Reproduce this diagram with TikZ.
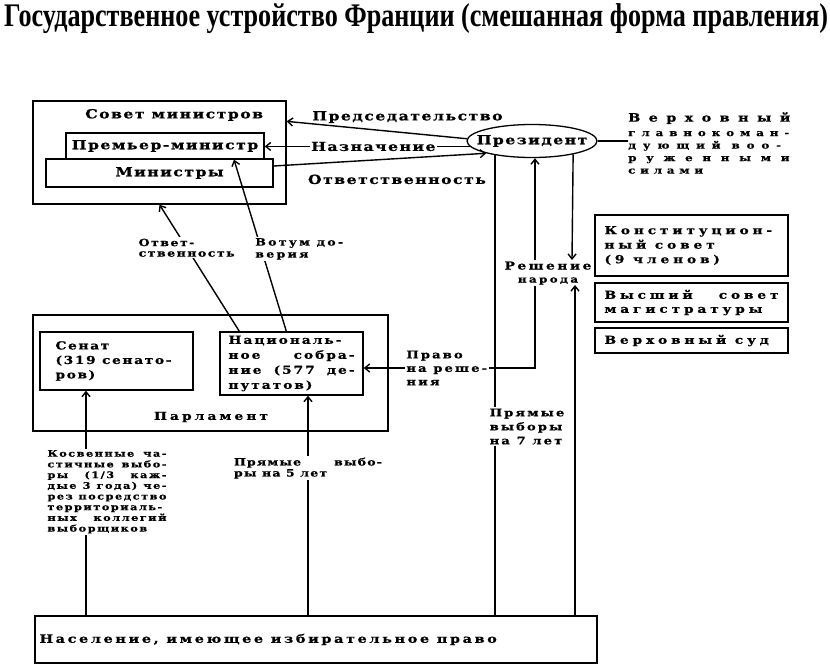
\documentclass[tikz,border=0pt]{standalone}
\usepackage{graphicx}
\usepackage{fontspec}
\setmainfont{DejaVu Serif}[FakeStretch=1.25,LetterSpace=12,FakeBold=0.8]
\newfontfamily\titlefont{Liberation Serif}
\usetikzlibrary{shapes.geometric,arrows.meta}
\newcommand\fs[2]{\bfseries\fontsize{#1}{#2}\selectfont}
\newcommand\ls[1]{\addfontfeature{LetterSpace=#1}}

\begin{document}
\begin{tikzpicture}[x=1pt,y=-1pt,
  box/.style={draw,line width=1.3pt,fill=white,inner sep=0pt},
  lbl/.style={fill=white,inner sep=1.5pt},
  arr/.style={line width=1.4pt,-{Straight Barb[length=5pt,width=8pt]}},
  arrs/.style={line width=1.4pt,{Straight Barb[length=5pt,width=8pt]}-{Straight Barb[length=5pt,width=8pt]}},
  link/.style={line width=1.4pt},
  font=\fs{12.5}{14}]
\useasboundingbox (0,0) rectangle (830,664);
\fill[white] (0,0) rectangle (830,664);

% Title
\node[anchor=north west,inner sep=0pt] (title) at (4,3)
  {\resizebox*{824pt}{30pt}{\titlefont\bfseries Государственное устройство Франции (смешанная форма правления)}};

% Council of ministers
\node[box,minimum width=253pt,minimum height=103pt] (sovet) at (159.5,152.5) {};
\node[anchor=west,inner sep=0pt] (sovettxt) at (85,115) {Совет министров};
\node[box,minimum width=198pt,minimum height=26pt] (premier) at (165,146) {Премьер-министр};
\node[box,minimum width=227pt,minimum height=28pt] (minist) at (159.5,173) {\hspace*{20pt}Министры};

% President and his role
\node[draw,ellipse,line width=1.3pt,fill=white,minimum width=130pt,minimum height=33pt,inner sep=0pt] (pres) at (532,141) {\makebox[60pt]{Президент}};
\node[anchor=north west,inner sep=0pt,align=left,font=\fs{9.5}{12.5}] (cmd) at (628,112)
  {{\fs{11.5}{13}\ls{73}Верховный}\\[2pt]{\ls{62}главнокоман-}\\{\ls{72}дующий воо-}\\{\ls{102}руженными}\\{\ls{50}силами}};
\draw[link] (pres.east) -- (pres.east -| cmd.west);

% Courts and councils
\node[box,minimum width=193pt,minimum height=61pt,text width=174pt,align=justify,font=\fs{11}{14.5}\ls{35}] (konst) at (691.5,245.5) {Конституцион-\\ный совет\\(9 членов)};
\node[box,minimum width=193pt,minimum height=39pt,text width=174pt,align=justify,font=\fs{11}{14}\ls{35}] (magist) at (691.5,302.5) {Высший совет\linebreak магистратуры};
\node[box,minimum width=193pt,minimum height=25pt,text width=174pt,align=justify,font=\fs{11}{14}\ls{35}] (court) at (691.5,340.5) {Верховный суд};

% Parliament
\node[box,minimum width=355pt,minimum height=116pt] (parl) at (210.5,373) {};
\node[inner sep=0pt,font=\fs{11}{13}\ls{28}] (parltxt) at (211,417) {Парламент};
\node[box,minimum width=153pt,minimum height=58pt,text width=122pt,align=justify,font=\fs{11}{14.5}\ls{15}] (senat) at (116.5,361) {Сенат\\(319 сенато-\\ров)};
\node[box,minimum width=143pt,minimum height=63pt,text width=126pt,align=justify,font=\fs{11}{15}\ls{18}] (ns) at (291.5,363.5) {Националь-\linebreak ное собра-\linebreak ние (577 де-\linebreak путатов)};

% Population
\node[box,minimum width=562pt,minimum height=47pt,text width=553pt,align=justify,font=\fs{11.5}{14}\ls{23}] (pop) at (316,639.5) {Население, имеющее избирательное право};

% President -> council
\draw[arr] (pres.178) -- node[pos=0.33,above=6pt] {Председательство} ([yshift=-21pt]sovet.north east);
\draw[arr] (pres.185) -- node[lbl,pos=0.47] {Назначение} (pres.185 -| premier.east);
\draw[arr] ([yshift=7pt]minist.east) -- node[pos=0.58,below=12pt] {Ответственность} (pres.195);

% Parliament -> council
\draw[arr] ([xshift=20pt]ns.north west) -- node[lbl,pos=0.66,align=left,font=\fs{10}{10.5}\ls{15}] {Ответ-\\ственность} (sovet.south);
\draw[arr] ([xshift=67pt]ns.north west) -- node[lbl,pos=0.48,xshift=38pt,align=left,font=\fs{10}{12}\ls{23}] {Вотум до-\\верия} ([xshift=69pt]premier.south);

% Elections
\draw[arr] ([xshift=-30.5pt]senat.south |- pop.north) -- node[lbl,pos=0.55,xshift=21pt,text width=119pt,align=justify,font=\fs{9}{10.7}\ls{17}]
  {Косвенные ча-\linebreak стичные выбо-\linebreak ры (1/3 каж-\linebreak дые 3 года) че-\linebreak рез посредство\linebreak территориаль-\linebreak ных коллегий\linebreak выборщиков} ([xshift=-30.5pt]senat.south);
\draw[arr] ([xshift=16.5pt]ns.south |- pop.north) -- node[lbl,pos=0.67,text width=148pt,align=justify,font=\fs{10}{11}\ls{12}] {Прямые выбо-\linebreak ры на 5 лет} ([xshift=16.5pt]ns.south);
\coordinate (vote7) at (495,427);
\draw[link] (vote7 |- pop.north) -- node[lbl,pos=0.41,xshift=32pt,align=left,font=\fs{10.5}{14}\ls{20}] {Прямые\\выборы\\на 7 лет} (vote7 |- pres.200);

% Right of dissolution and referendum
\coordinate (corner) at (535,368);
\draw[arrs] ([yshift=-4.5pt]ns.east) -- node[lbl,pos=0.485,align=left,font=\fs{10.5}{13.5}\ls{20}] {Право\\на реше-\\ния} (corner) -- (corner |- pres.south);
\node[lbl,align=center,font=\fs{11}{13}\ls{23}] (resh) at (548,273) {Решение\\{\fs{9.5}{13}\ls{25}народа}};
\coordinate (reshin) at (572,260);
\coordinate (reshout) at (575,285);
\draw[arr] (pres.-18) -- (reshin);
\draw[arr] (reshout |- pop.north) -- (reshout);
\end{tikzpicture}
\end{document}
